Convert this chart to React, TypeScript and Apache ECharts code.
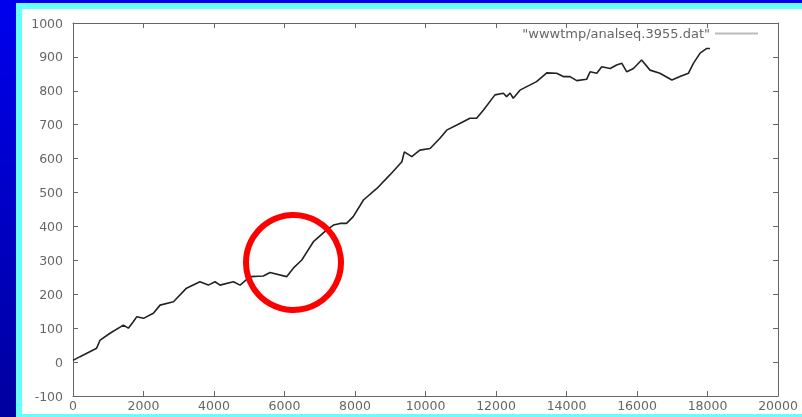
import React, { useEffect, useRef } from "react";
import * as echarts from "echarts";

const seriesName = '"wwwtmp/analseq.3955.dat"';
const xs = [0, 200, 670, 770, 1050, 1430, 1570, 1710, 1810, 2000, 2280, 2470, 2850, 3220, 3600, 3840, 4030, 4170, 4550, 4740, 5020, 5400, 5590, 6060, 6250, 6490, 6820, 7200, 7390, 7580, 7760, 7950, 8240, 8620, 8990, 9330, 9400, 9610, 9840, 10130, 10410, 10600, 10890, 11260, 11450, 11640, 11970, 12210, 12300, 12400, 12490, 12680, 13150, 13440, 13720, 13910, 14100, 14290, 14570, 14670, 14860, 15000, 15240, 15420, 15570, 15710, 15900, 16130, 16370, 16650, 16990, 17220, 17460, 17600, 17790, 17980, 18070];
const ys = [5, 16, 41, 65, 85, 109, 100, 119, 134, 129, 144, 168, 178, 218, 237, 227, 237, 227, 237, 227, 252, 254, 264, 252, 277, 301, 355, 390, 404, 409, 409, 429, 478, 512, 552, 591, 620, 606, 625, 630, 660, 684, 699, 719, 719, 743, 788, 793, 783, 793, 778, 802, 827, 853, 852, 842, 842, 830, 834, 856, 852, 871, 866, 876, 881, 856, 866, 891, 861, 852, 832, 842, 852, 881, 911, 925, 925];
const xMin = 0, xMax = 20000, xStep = 2000;
const yMin = -100, yMax = 1000, yStep = 100;

const FONT = '"DejaVu Sans", Verdana, sans-serif';

export default function App() {
  const ref = useRef<HTMLDivElement>(null);
  useEffect(() => {
    if (!ref.current) return;
    const chart = echarts.init(ref.current, null, { renderer: "svg" });
    const axisLine = { show: true, onZero: false, lineStyle: { color: "#666", width: 1 } };
    const tick = { show: true, inside: true, length: 5, lineStyle: { color: "#666" } };
    const label = { color: "#666", fontSize: 12.5, fontFamily: FONT, formatter: (v: number) => String(v) };
    chart.setOption({
      animation: false,
      backgroundColor: "transparent",
      graphic: [
        {
          type: "rect", z: -10, silent: true,
          shape: { x: 0, y: 0, width: 802, height: 417 },
          style: {
            fill: new echarts.graphic.LinearGradient(0, 0, 0, 1, [
              { offset: 0, color: "#0000ee" },
              { offset: 1, color: "#00009e" },
            ]),
          },
        },
        { type: "rect", z: -9, silent: true, shape: { x: 16, y: 3, width: 786, height: 414 }, style: { fill: "#66ffff" } },
        { type: "rect", z: -8, silent: true, shape: { x: 22, y: 9, width: 780, height: 405 }, style: { fill: "#ffffff" } },
        {
          type: "circle", z: 100, silent: true,
          shape: { cx: 293.5, cy: 262.5, r: 47.5 },
          style: { fill: "none", stroke: "#ff0000", lineWidth: 6 },
        },
      ],
      legend: {
        show: true,
        right: 44,
        top: 27,
        padding: 0,
        align: "right",
        icon: "rect",
        itemWidth: 43,
        itemHeight: 2,
        itemGap: 8,
        textStyle: { color: "#666", fontSize: 13, fontFamily: FONT },
        data: [{ name: seriesName, itemStyle: { color: "#bbb" } }],
      },
      grid: { left: 73, top: 23, width: 705, height: 373, containLabel: false },
      xAxis: [
        {
          type: "value", min: xMin, max: xMax, interval: xStep, position: "bottom",
          axisLine, axisTick: tick, splitLine: { show: false },
          axisLabel: { ...label, margin: 3 },
        },
        {
          type: "value", min: xMin, max: xMax, interval: xStep, position: "top",
          axisLine, axisTick: tick, splitLine: { show: false }, axisLabel: { show: false },
        },
      ],
      yAxis: [
        {
          type: "value", min: yMin, max: yMax, interval: yStep, position: "left",
          axisLine, axisTick: tick, splitLine: { show: false },
          axisLabel: { ...label, margin: 10 },
        },
        {
          type: "value", min: yMin, max: yMax, interval: yStep, position: "right",
          axisLine, axisTick: tick, splitLine: { show: false }, axisLabel: { show: false },
        },
      ],
      series: [
        {
          name: seriesName,
          type: "line",
          xAxisIndex: 0,
          yAxisIndex: 0,
          data: xs.map((x, i) => [x, ys[i]]),
          showSymbol: false,
          symbol: "none",
          lineStyle: { color: "#222", width: 1.6 },
        },
      ],
    });
    return () => chart.dispose();
  }, []);
  return (
    <div
      ref={ref}
      style={{ position: "fixed", left: 0, top: 0, width: 802, height: 417 }}
    />
  );
}
